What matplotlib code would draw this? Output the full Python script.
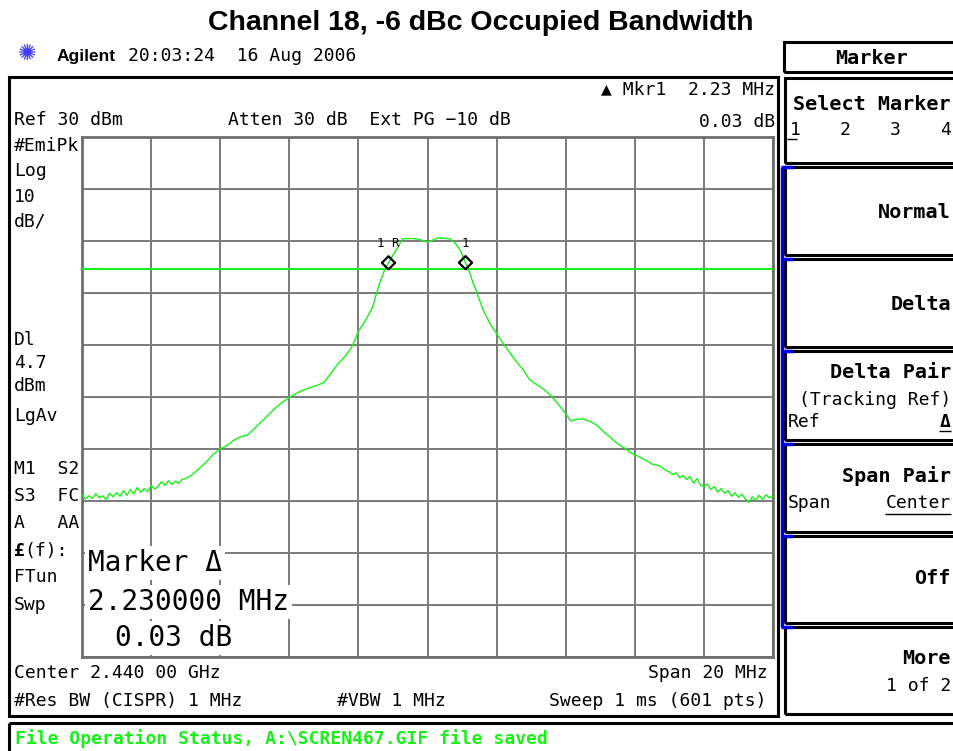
import matplotlib.pyplot as plt
from matplotlib.lines import Line2D
from matplotlib.patches import Rectangle

# trace: offset from centre (MHz) and level (dBm)
freq_mhz = [-10.0, -9.9, -9.8, -9.7, -9.6, -9.5, -9.4, -9.3, -9.2, -9.1,
            -9.0, -8.9, -8.8, -8.7, -8.6, -8.5, -8.4, -8.3, -8.2, -8.1,
            -8.0, -7.9, -7.8, -7.7, -7.6, -7.5, -7.4, -7.3, -7.2, -7.1,
            -7.0, -6.8, -6.6, -6.4, -6.2, -6.0, -5.8, -5.6, -5.4, -5.2,
            -5.0, -4.8, -4.6, -4.4, -4.2, -4.0, -3.8, -3.6, -3.4, -3.2,
            -3.0, -2.8, -2.6, -2.4, -2.2, -2.0, -1.8, -1.6, -1.4, -1.25,
            -1.13, -1.0, -0.9, -0.8, -0.72, -0.5, -0.3, -0.1, 0.0, 0.1,
            0.3, 0.5, 0.65, 0.8, 0.95, 1.1, 1.2, 1.3, 1.45, 1.6,
            1.8, 1.95, 2.15, 2.35, 2.55, 2.75, 2.95, 3.15, 3.35, 3.55,
            3.75, 3.95, 4.15, 4.3, 4.5, 4.7, 4.9, 5.1, 5.3, 5.5,
            5.7, 5.9, 6.1, 6.3, 6.5, 6.7, 6.9,
            7.0, 7.1, 7.2, 7.3, 7.4, 7.5, 7.6, 7.7, 7.8, 7.9,
            8.0, 8.1, 8.2, 8.3, 8.4, 8.5, 8.6, 8.7, 8.8, 8.9,
            9.0, 9.1, 9.2, 9.3, 9.4, 9.5, 9.6, 9.7, 9.8, 9.9, 10.0]
level_dbm = [-38.8, -39.6, -39.0, -39.5, -38.6, -39.4, -39.0, -39.7, -38.5, -39.2,
             -38.4, -39.1, -38.0, -38.9, -37.8, -38.6, -37.4, -38.3, -37.6, -38.2,
             -37.0, -37.7, -37.2, -36.3, -37.0, -36.1, -36.8, -36.2, -36.6, -35.8,
             -35.7, -34.9, -33.7, -32.5, -31.0, -30.0, -29.3, -28.3, -27.6, -27.3,
             -26.0, -24.7, -23.4, -22.1, -21.0, -20.1, -19.3, -18.7, -18.2, -17.8,
             -17.2, -15.5, -13.7, -12.3, -10.5, -7.4, -5.3, -2.9, 1.6, 4.3,
             5.8, 7.3, 8.3, 9.5, 10.4, 10.5, 10.4, 10.0, 9.8, 10.0,
             10.6, 10.5, 10.4, 9.6, 8.2, 5.8, 4.3, 2.3, -0.3, -3.1,
             -5.8, -7.3, -9.3, -11.2, -13.0, -14.6, -16.6, -17.6, -18.4, -19.6,
             -21.1, -22.8, -24.6, -24.3, -24.2, -24.7, -25.4, -26.7, -27.8, -29.0,
             -29.8, -30.8, -31.4, -32.1, -32.9, -33.2, -34.1,
             -34.4, -34.9, -34.6, -35.5, -35.1, -35.9, -35.3, -36.6, -35.7, -36.9,
             -37.3, -36.7, -37.8, -37.2, -38.3, -37.6, -38.5, -38.0, -39.1, -38.4,
             -39.3, -38.7, -39.6, -40.3, -39.2, -39.9, -38.9, -39.7, -38.8, -39.4, -39.0]

ref_level = 30
db_per_div = 10
span_mhz = 20
display_line = 4.7
marker_freqs = [-1.13, 1.10]
marker_levels = [5.8, 5.83]
marker_labels = ["1 R", "1"]

W, H = 954, 751
MONO = "DejaVu Sans Mono"
GREEN = "#19f019"


def fx(x):
    return x / W


def fy(y):
    return 1 - y / H


def ftext(x, y, s, size=13, weight="normal", ha="left", color="black", family=MONO):
    return fig.text(fx(x), fy(y), s, fontsize=size, fontweight=weight, ha=ha, va="center",
                    color=color, family=family)


def fline(x0, y0, x1, y1, lw=2.0, color="black"):
    fig.add_artist(Line2D([fx(x0), fx(x1)], [fy(y0), fy(y1)], lw=lw, color=color,
                          transform=fig.transFigure, solid_capstyle="butt"))


def fbox(x0, y0, x1, y1, lw=2.0, color="black"):
    fig.add_artist(Rectangle((fx(x0), fy(y1)), fx(x1) - fx(x0), fy(y0) - fy(y1),
                             fill=False, lw=lw, edgecolor=color, transform=fig.transFigure))


fig = plt.figure(figsize=(W / 100, H / 100), dpi=100)

# graticule
ax = fig.add_axes([fx(82), fy(657), fx(773) - fx(82), fy(137) - fy(657)])
ax.set_xlim(-span_mhz / 2, span_mhz / 2)
ax.set_ylim(ref_level - 10 * db_per_div, ref_level)
ax.set_xticks([-span_mhz / 2 + i * span_mhz / 10 for i in range(11)])
ax.set_yticks([ref_level - i * db_per_div for i in range(11)])
ax.grid(True, color="#7a7a7a", lw=1.4)
ax.tick_params(length=0, labelbottom=False, labelleft=False)
for sp in ax.spines.values():
    sp.set_color("#6e6e6e")
    sp.set_linewidth(2)

ax.plot(freq_mhz, level_dbm, color=GREEN, lw=1.0, zorder=3)
ax.axhline(display_line, color=GREEN, lw=1.5, zorder=3)
ax.scatter(marker_freqs, marker_levels, marker="D", s=45, facecolor="none",
           edgecolor="black", linewidths=1.6, zorder=4)
for f, lv, lab in zip(marker_freqs, marker_levels, marker_labels):
    ax.annotate(lab, (f, lv), xytext=(0, 14), textcoords="offset points", ha="center",
                va="center", fontsize=9, family=MONO)

# marker readout box over the graticule
box_kw = dict(facecolor="white", edgecolor="none", pad=2)
ftext(88, 563, "Marker Δ", size=20).set_bbox(box_kw)
ftext(88, 602, "2.230000 MHz", size=20).set_bbox(box_kw)
ftext(115, 638, "0.03 dB", size=20).set_bbox(box_kw)

# title and header
fig.text(fx(481), fy(23), "Channel 18, -6 dBc Occupied Bandwidth", fontsize=20.5,
         fontweight="bold", ha="center", va="center", family="Liberation Sans")
ftext(27, 54, "✺", size=16, ha="center", color="#3c3cf0", family="DejaVu Sans")
ftext(57, 56, "Agilent", size=12.5, weight="bold", family="Liberation Sans")
ftext(128, 56, "20:03:24  16 Aug 2006", size=13)

# screen frames
fbox(9, 77, 778, 716, lw=2.2)
fline(9, 723, W, 723, lw=2.2)
fline(9, 723, 9, H, lw=2.2)

# annotations around the graticule
ftext(14, 120, "Ref 30 dBm")
ftext(228, 120, "Atten 30 dB  Ext PG \u221210 dB")
ftext(775, 89, "▲ Mkr1  2.23 MHz", ha="right")
ftext(775, 122, "0.03 dB", ha="right")
left_labels = [("#EmiPk", 146), ("Log", 171), ("10", 197), ("dB/", 221),
               ("Dl", 340), ("4.7", 363), ("dBm", 386), ("LgAv", 416),
               ("M1  S2", 469), ("S3  FC", 496), ("A   AA", 523),
               ("FTun", 577), ("Swp", 605)]
for s, y in left_labels:
    ftext(14, y, s)
ftext(14, 551, "£", weight="bold")
ftext(24, 551, "(f):")
ftext(14, 673, "Center 2.440 00 GHz")
ftext(768, 673, "Span 20 MHz", ha="right")
ftext(14, 701, "#Res BW (CISPR) 1 MHz")
ftext(337, 701, "#VBW 1 MHz")
ftext(767, 701, "Sweep 1 ms (601 pts)", ha="right")
ftext(15, 739, "File Operation Status, A:\\SCREN467.GIF file saved", size=13,
      weight="bold", color=GREEN)

# softkey panel
fbox(784, 42, 962, 72, lw=2.2)
ftext(872, 58, "Marker", size=14.5, weight="bold", ha="center")
key_tops = [78, 167, 259, 351, 444, 536, 627]
key_bottoms = [163, 255, 347, 440, 532, 623, 714]
for t, b in zip(key_tops, key_bottoms):
    fbox(785, t, 962, b, lw=2.2)
fline(782, 167, 782, 627, lw=2.5, color="#0000ee")
for t in key_tops[1:]:
    fline(781, t, 793, t, lw=2.5, color="#0000ee")

RX = 951
ftext(RX, 105, "Select Marker", size=14.5, weight="bold", ha="right")
for i, n in enumerate(["1", "2", "3", "4"]):
    ftext(790 + 50 * i, 130, n)
fline(787, 139, 797, 139, lw=1)
ftext(RX, 213, "Normal", size=14.5, weight="bold", ha="right")
ftext(RX, 305, "Delta", size=14.5, weight="bold", ha="right")
ftext(RX, 372, "Delta Pair", size=14.5, weight="bold", ha="right")
ftext(RX, 400, "(Tracking Ref)", ha="right")
ftext(788, 422, "Ref")
ftext(RX, 422, "Δ", weight="bold", ha="right")
fline(939, 431, RX, 431, lw=1)
ftext(RX, 476, "Span Pair", size=14.5, weight="bold", ha="right")
ftext(788, 503, "Span")
ftext(RX, 503, "Center", ha="right")
fline(885, 514, RX, 514, lw=1)
ftext(RX, 579, "Off", size=14.5, weight="bold", ha="right")
ftext(RX, 659, "More", size=14.5, weight="bold", ha="right")
ftext(RX, 686, "1 of 2", ha="right")

fig.savefig("out.png", dpi=100)
